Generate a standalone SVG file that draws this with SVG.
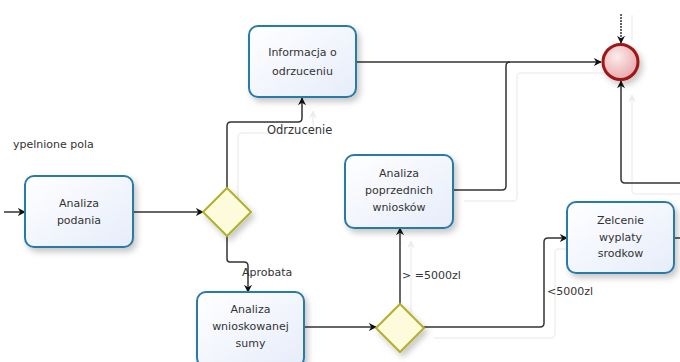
<svg xmlns="http://www.w3.org/2000/svg" width="680" height="362" viewBox="0 0 680 362">
<defs>
<style>
.task rect{fill:url(#tg);stroke:#2a7aa8;stroke-width:2}
.gw polygon{fill:#fcfcdc;stroke:#b0b02c;stroke-width:2}
.t{font-family:"DejaVu Sans","Liberation Sans",sans-serif;font-size:11px;fill:#333;text-anchor:middle}
.l{font-family:"DejaVu Sans","Liberation Sans",sans-serif;font-size:11px;fill:#333}
.c{fill:none;stroke:#333;stroke-width:1.5}
.g{fill:none;stroke:#f0f0f0;stroke-width:1.5}
</style>
<linearGradient id="tg" x1="0" y1="0" x2="1" y2="1"><stop offset="0" stop-color="#ffffff"/><stop offset="1" stop-color="#e6ecfa"/></linearGradient>
<radialGradient id="eg" cx="0.4" cy="0.35" r="0.7"><stop offset="0" stop-color="#fbecec"/><stop offset="1" stop-color="#eaa4a8"/></radialGradient>
<filter id="sh" x="-20%" y="-20%" width="150%" height="160%"><feDropShadow dx="3" dy="4" stdDeviation="3" flood-color="#000" flood-opacity="0.22"/></filter>
<marker id="ar" viewBox="0 0 10 10" refX="9" refY="5" markerWidth="8" markerHeight="8" markerUnits="userSpaceOnUse" orient="auto"><path d="M0,0 L10,5 L0,10 L3,5 z" fill="#111"/></marker>
<marker id="ga" viewBox="0 0 10 10" refX="9" refY="5" markerWidth="8" markerHeight="8" markerUnits="userSpaceOnUse" orient="auto"><path d="M0,0 L10,5 L0,10 L3,5 z" fill="#ececec"/></marker>
</defs>
<rect width="680" height="362" fill="#fff"/>
<g id="ghosts" transform="translate(11,11)">
<path class="g" d="M227,188 V126 Q227,122 231,122 H298 Q302,122 302,118 V100" marker-end="url(#ga)"/>
<path class="g" d="M453,190 H502 Q506,190 506,186 V66 Q506,62 510,62 H600"/>
<path class="g" d="M400,304 V230" marker-end="url(#ga)"/>
<path class="g" d="M423,327 H540 Q544,327 544,323 V242 Q544,238 548,238 H566"/>
<path class="g" d="M680,183 H625 Q621,183 621,179 V84" marker-end="url(#ga)"/>
<path class="g" d="M621,4 V30"/>
</g>
<text class="l" x="13" y="148">ypelnione pola</text>
<g id="connectors">
<path class="c" d="M4,212 H25" marker-end="url(#ar)"/>
<path class="c" d="M133,212 H203" marker-end="url(#ar)"/>
<path class="c" d="M227,188 V126 Q227,122 231,122 H298 Q302,122 302,118 V98" marker-end="url(#ar)"/>
<path class="c" d="M356,62 H601" marker-end="url(#ar)"/>
<path class="c" d="M453,190 H502 Q506,190 506,186 V66 Q506,62 510,62"/>
<path class="c" d="M227,235 V259 Q227,262 230,262 H244 Q248,262 248,266 V292" marker-end="url(#ar)"/>
<path class="c" d="M304,327 H376" marker-end="url(#ar)"/>
<path class="c" d="M400,304 V228" marker-end="url(#ar)"/>
<path class="c" d="M423,327 H540 Q544,327 544,323 V242 Q544,238 548,238 H567" marker-end="url(#ar)"/>
<path class="c" d="M674,238 H680"/>
<path class="c" d="M680,183 H625 Q621,183 621,179 V81" marker-end="url(#ar)"/>
<path class="c" d="M621,14 V43" stroke-dasharray="2 1" marker-end="url(#ar)"/>
<text class="l" x="267" y="134" style="font-size:11.5px">Odrzucenie</text>
<text class="l" x="242" y="276">Aprobata</text>
<text class="l" x="402" y="279">&gt; =5000zl</text>
<text class="l" x="547" y="295">&lt;5000zl</text>
</g>
<g id="analiza-podania" class="task"><rect x="25" y="176" width="108" height="71" rx="9" filter="url(#sh)"/><text class="t" x="79" y="207">Analiza</text><text class="t" x="79" y="224">podania</text></g>
<g id="brama-1" class="gw"><polygon points="227,188 251,212 227,236 203,212" filter="url(#sh)"/></g>
<g id="informacja-o-odrzuceniu" class="task"><rect x="249" y="26" width="107" height="71" rx="9" filter="url(#sh)"/><text class="t" x="302.5" y="56">Informacja o</text><text class="t" x="302.5" y="75">odrzuceniu</text></g>
<g id="analiza-wnioskowanej-sumy" class="task"><rect x="197" y="292" width="107" height="75" rx="9" filter="url(#sh)"/><text class="t" x="250.5" y="313">Analiza</text><text class="t" x="250.5" y="330">wnioskowanej</text><text class="t" x="250.5" y="347">sumy</text></g>
<g id="brama-2" class="gw"><polygon points="400,304 424,328 400,352 376,328" filter="url(#sh)"/></g>
<g id="analiza-poprzednich-wnioskow" class="task"><rect x="345" y="155" width="108" height="73" rx="9" filter="url(#sh)"/><text class="t" x="399" y="177">Analiza</text><text class="t" x="399" y="194">poprzednich</text><text class="t" x="399" y="211">wniosków</text></g>
<g id="zlecenie-wyplaty-srodkow" class="task"><rect x="567" y="202" width="107" height="71" rx="9" filter="url(#sh)"/><text class="t" x="620.5" y="224">Zelcenie</text><text class="t" x="620.5" y="241">wyplaty</text><text class="t" x="620.5" y="257">srodkow</text></g>
<g id="koniec"><circle cx="620.5" cy="62" r="17.5" fill="url(#eg)" stroke="#a01414" stroke-width="3" filter="url(#sh)"/></g>
</svg>
